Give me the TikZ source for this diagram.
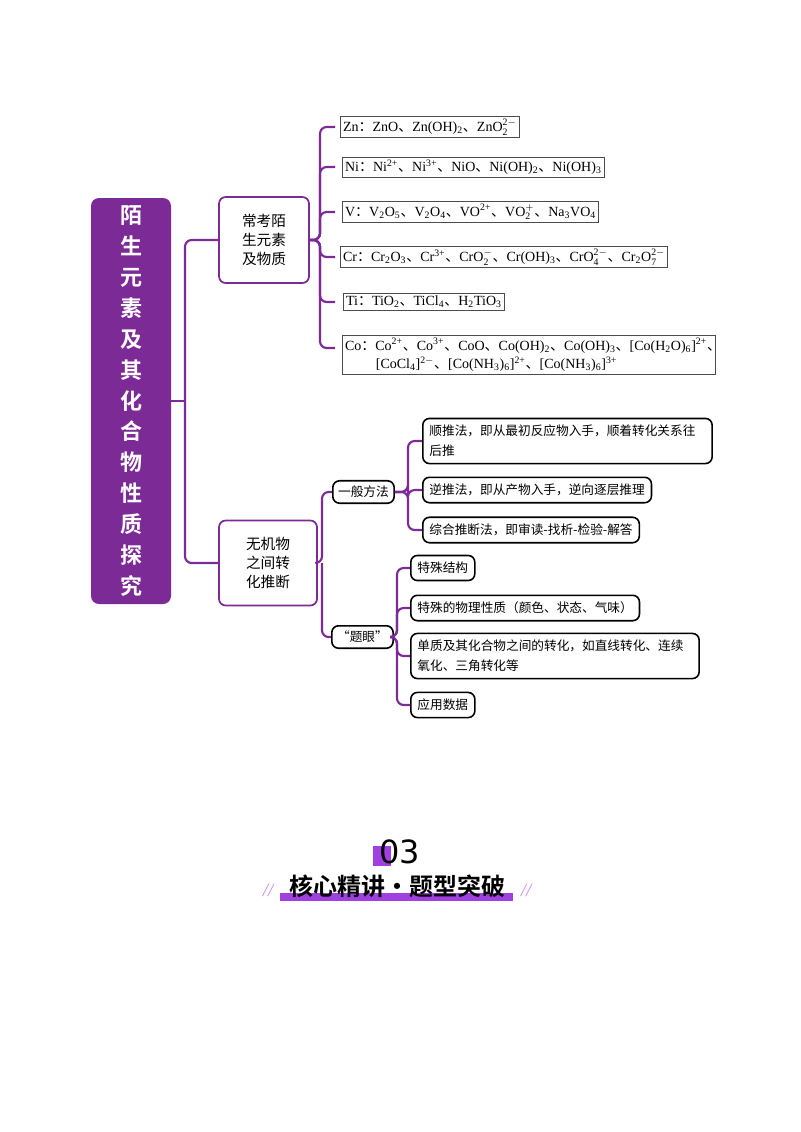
\documentclass[tikz,border=0pt]{standalone}
\usepackage{fontspec}
\setmainfont{Liberation Serif}
\newfontfamily\cjk{Noto Sans CJK SC}
\newfontfamily\cjkb{Noto Sans CJK SC Bold}
\newfontfamily\dejavu{DejaVu Sans}
\newcommand{\dn}{{\cjk 、}}
\newcommand{\cl}{{\cjk ：}}
\definecolor{pur}{HTML}{7B2A96}
\definecolor{lpur}{HTML}{A040E0}
\begin{document}
\begin{tikzpicture}[x=0.75pt,y=-0.75pt,
  br/.style={draw=pur,line width=1.6pt,rounded corners=5pt},
  pbox/.style={draw=pur,line width=1.3pt,rounded corners=5pt,font=\cjk\fontsize{11}{14}\selectfont,align=left},
  kbox/.style={draw=black,line width=1.2pt,rounded corners=5pt,font=\cjk\fontsize{9.5}{15}\selectfont,align=left,anchor=west,inner sep=5pt},
  fbox/.style={draw=black!70,line width=0.6pt,font=\fontsize{10.5}{14}\selectfont,align=left,anchor=west,inner sep=2pt}]
\useasboundingbox (0,0) rectangle (800,1132);
% main box
\node[fill=pur,rounded corners=6pt,minimum width=80*0.75pt,minimum height=406*0.75pt,text=white,
  font=\cjkb\fontsize{16.5}{23.2}\selectfont,align=center] (main) at (131,401)
  {陌\\生\\元\\素\\及\\其\\化\\合\\物\\性\\质\\探\\究};
\node[pbox,minimum width=90*0.75pt,minimum height=86*0.75pt,align=center] (a) at (264,240) {常考陌\\生元素\\及物质};
\node[pbox,minimum width=98*0.75pt,minimum height=85*0.75pt,align=center] (b) at (268,563) {无机物\\之间转\\化推断};
\draw[br] (main.east) -- (185,401);
\draw[br] (a.west) -| (185,401) |- (b.west);
% formulas
\node[fbox] (f1) at (340,127) {Zn\cl ZnO\dn Zn(OH)\textsubscript{2}\dn $\mathrm{ZnO_2^{2-}}$};
\node[fbox] (f2) at (342,167) {Ni\cl Ni\textsuperscript{2+}\dn Ni\textsuperscript{3+}\dn NiO\dn Ni(OH)\textsubscript{2}\dn Ni(OH)\textsubscript{3}};
\node[fbox] (f3) at (342,212) {V\cl V\textsubscript{2}O\textsubscript{5}\dn V\textsubscript{2}O\textsubscript{4}\dn VO\textsuperscript{2+}\dn $\mathrm{VO_2^{+}}$\dn Na\textsubscript{3}VO\textsubscript{4}};
\node[fbox] (f4) at (340,257) {Cr\cl Cr\textsubscript{2}O\textsubscript{3}\dn Cr\textsuperscript{3+}\dn $\mathrm{CrO_2^{-}}$\dn Cr(OH)\textsubscript{3}\dn $\mathrm{CrO_4^{2-}}$\dn $\mathrm{Cr_2O_7^{2-}}$};
\node[fbox] (f5) at (343,302) {Ti\cl TiO\textsubscript{2}\dn TiCl\textsubscript{4}\dn H\textsubscript{2}TiO\textsubscript{3}};
\node[fbox,text width=368*0.75pt] (f6) at (342,355) {Co\cl Co\textsuperscript{2+}\dn Co\textsuperscript{3+}\dn CoO\dn Co(OH)\textsubscript{2}\dn Co(OH)\textsubscript{3}\dn [Co(H\textsubscript{2}O)\textsubscript{6}]\textsuperscript{2+}\dn\\
\hspace*{2.2em}[CoCl\textsubscript{4}]\textsuperscript{2$-$}\dn [Co(NH\textsubscript{3})\textsubscript{6}]\textsuperscript{2+}\dn [Co(NH\textsubscript{3})\textsubscript{6}]\textsuperscript{3+}};
\coordinate (fa) at (320,240);
\foreach \f/\y in {f1/127,f2/167,f3/212,f4/257,f5/302,f6/348}
  \draw[br] (a.east) -- (fa) |- (335,\y);
% methods
\node[kbox,inner sep=4pt] (m1) at (332,492) {一般方法};
\node[kbox,inner sep=4pt] (m2) at (331,637) {“题眼”};
\draw[br] (b.east) -- (322,563) |- (m1.west);
\draw[br] (322,563) |- (m2.west);
\node[kbox,text width=276*0.75pt] (k1) at (422,441) {顺推法，即从最初反应物入手，顺着转化关系往\\后推};
\node[kbox] (k2) at (422,490) {逆推法，即从产物入手，逆向逐层推理};
\node[kbox] (k3) at (422,530) {综合推断法，即审读-找析-检验-解答};
\foreach \k in {k1,k2,k3} \draw[br] (m1.east) -- (408,492) |- (\k.west);
\node[kbox] (t1) at (410,568) {特殊结构};
\node[kbox] (t2) at (410,608) {特殊的物理性质（颜色、状态、气味）};
\node[kbox,text width=275*0.75pt] (t3) at (410,656) {单质及其化合物之间的转化，如直线转化、连续\\氧化、三角转化等};
\node[kbox] (t4) at (410,705) {应用数据};
\foreach \k in {t1,t2,t3,t4} \draw[br] (m2.east) -- (397,637) |- (\k.west);
% footer
\fill[lpur] (373,846) rectangle (391,866);
\node[font=\dejavu\fontsize{24}{24}\selectfont] (n03) at (400,852) {03};
\fill[lpur] (280,893) rectangle (513,901);
\node[font=\cjkb\fontsize{18}{18}\selectfont] (tt) at (397,886) {核心精讲·题型突破};
\node[text=lpur!60,font=\fontsize{14}{14}\selectfont\itshape] (s1) at (268,890) {//};
\node[text=lpur!60,font=\fontsize{14}{14}\selectfont\itshape] (s2) at (526,890) {//};
\end{tikzpicture}
\end{document}
